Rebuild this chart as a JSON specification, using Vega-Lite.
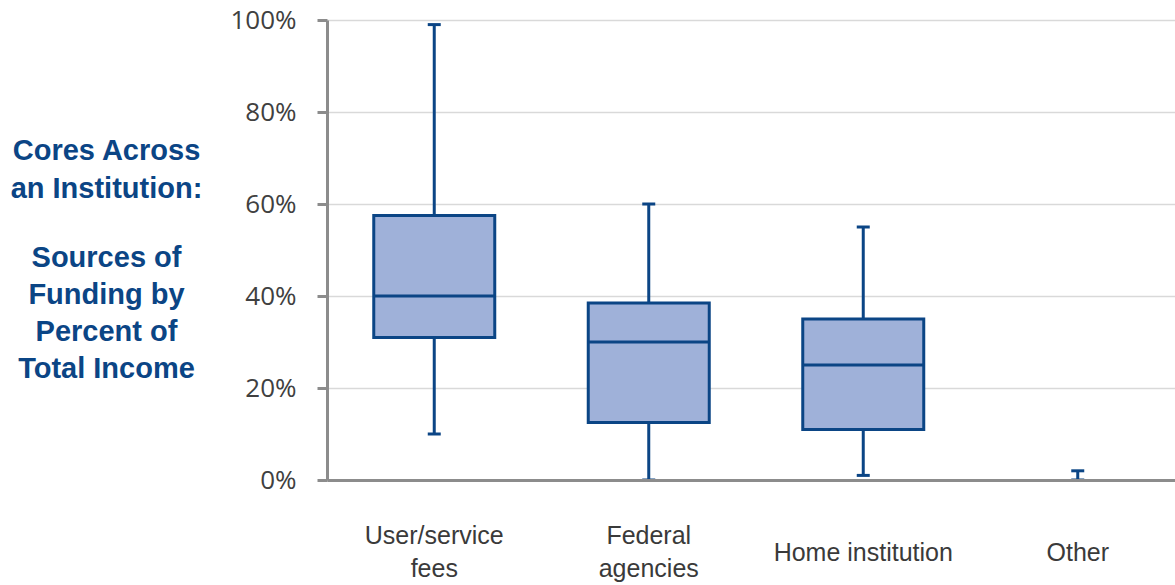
{
  "$schema": "https://vega.github.io/schema/vega-lite/v6.json",
  "autosize": {"type": "none"},
  "padding": {"left": 327, "top": 20, "right": 0, "bottom": 105},
  "width": 848,
  "height": 460,
  "background": "white",
  "config": {"view": {"stroke": null}},
  "data": {
    "values": [
      {"source": "User/service fees", "min": 10, "q1": 31, "median": 40, "q3": 57.5, "max": 99},
      {"source": "Federal agencies", "min": 0, "q1": 12.5, "median": 30, "q3": 38.5, "max": 60},
      {"source": "Home institution", "min": 1, "q1": 11, "median": 25, "q3": 35, "max": 55},
      {"source": "Other", "min": 0, "q1": null, "median": null, "q3": null, "max": 2}
    ]
  },
  "encoding": {
    "x": {
      "field": "source",
      "type": "nominal",
      "sort": null,
      "scale": {"range": [0, 858], "paddingInner": 0, "paddingOuter": 0},
      "axis": {
        "title": ["Sources of", "Funding by", "Percent of", "Total Income"],
        "titleAngle": 0,
        "titleAlign": "center",
        "titleBaseline": "top",
        "titleX": -221,
        "titleY": -237,
        "titleFont": "Liberation Sans",
        "titleFontSize": 29,
        "titleFontWeight": "bold",
        "titleColor": "#0b4585",
        "titleLineHeight": 37,
        "labelAngle": 0,
        "ticks": false,
        "labelExpr": "datum.value == 'User/service fees' ? ['User/service', 'fees'] : datum.value == 'Federal agencies' ? ['Federal', 'agencies'] : datum.value",
        "labelFont": "Liberation Sans",
        "labelFontSize": 25,
        "labelColor": "#3a3a3a",
        "labelBaseline": "middle",
        "labelLineHeight": 33,
        "labelPadding": {"condition": {"test": "datum.value == 'User/service fees' || datum.value == 'Federal agencies'", "value": 55}, "value": 72},
        "domainColor": "#8c8c8c",
        "domainWidth": 3,
        "grid": false,
        "zindex": 1
      }
    }
  },
  "layer": [
    {
      "mark": {"type": "rule", "color": "#0b4585", "strokeWidth": 3},
      "encoding": {
        "y": {
          "field": "min",
          "type": "quantitative",
          "scale": {"domain": [0, 100], "nice": false},
          "axis": {
            "values": [0, 20, 40, 60, 80, 100],
            "labelExpr": "datum.value + '%'",
            "labelFont": "Open Sans",
            "labelFontSize": 26,
            "labelColor": "#404040",
            "labelPadding": 21,
            "tickSize": 10,
            "tickWidth": 3,
            "tickColor": "#8c8c8c",
            "domainColor": "#8c8c8c",
            "domainWidth": 3,
            "gridColor": "#d9d9d9",
            "gridWidth": 1.5,
            "zindex": 0,
            "title": ["Cores Across", "an Institution:"],
            "titleAngle": 0,
            "titleAlign": "center",
            "titleBaseline": "top",
            "titleX": -221,
            "titleY": 116,
            "titleFont": "Liberation Sans",
            "titleFontSize": 29,
            "titleFontWeight": "bold",
            "titleColor": "#0b4585",
            "titleLineHeight": 38
          }
        },
        "y2": {"field": "max"}
      }
    },
    {
      "mark": {"type": "bar", "size": 121, "fill": "#9fb1d9", "stroke": "#0b4585", "strokeWidth": 3},
      "encoding": {
        "y": {"field": "q1", "type": "quantitative"},
        "y2": {"field": "q3"}
      }
    },
    {
      "mark": {"type": "tick", "size": 121, "thickness": 3, "color": "#0b4585", "opacity": 1},
      "encoding": {"y": {"field": "median", "type": "quantitative"}}
    },
    {
      "mark": {"type": "tick", "size": 13, "thickness": 3, "color": "#0b4585", "opacity": 1},
      "encoding": {"y": {"field": "max", "type": "quantitative"}}
    },
    {
      "mark": {"type": "tick", "size": 13, "thickness": 3, "color": "#0b4585", "opacity": 1},
      "encoding": {"y": {"field": "min", "type": "quantitative"}}
    }
  ]
}
